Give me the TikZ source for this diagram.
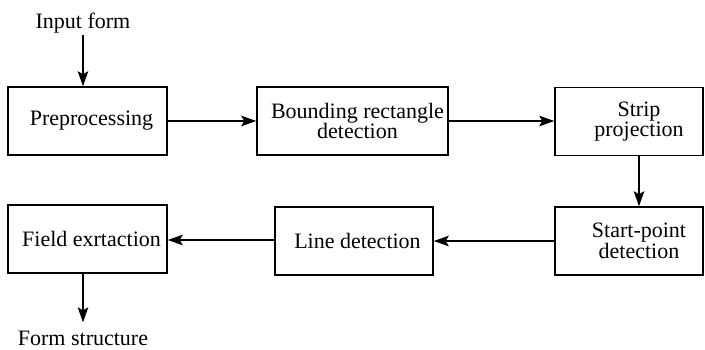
\documentclass[tikz,border=0pt]{standalone}
\usepackage{fontspec}
\setmainfont{Liberation Serif}
\usetikzlibrary{arrows.meta}
\begin{document}
\begin{tikzpicture}[x=1pt,y=-1pt,
  every node/.style={font=\fontsize{22}{20.5}\selectfont},
  stage/.style={draw, line width=1.5pt, minimum height=68pt, align=center, inner sep=0pt},
  io/.style={inner sep=2pt},
  flow/.style={line width=1.6pt, -{Stealth[length=15pt,width=10.5pt,inset=3pt]}}]
\useasboundingbox (0,0) rectangle (705,349);

% processing stages
\node[stage, minimum width=159pt] (pre)   at (87.5,121) {\hspace*{8pt}Preprocessing};
\node[stage, minimum width=191pt] (bound) at (352.5,121) {\hspace*{10pt}Bounding rectangle\\\hspace*{10pt}detection};
\node[stage, minimum width=148pt] (strip) at (629,121.5) {\hspace*{20pt}Strip\\\hspace*{20pt}projection};
\node[stage, minimum width=148pt] (start) at (629,241) {\hspace*{20pt}Start-point\\\hspace*{20pt}detection};
\node[stage, minimum width=158pt] (line)  at (354,241) {\hspace*{7pt}Line detection};
\node[stage, minimum width=159pt] (field) at (87.5,239) {\hspace*{8pt}Field exrtaction};

% input and output
\node[io, anchor=base] (in)  at (83,28) {Input form};
\node[io, anchor=base] (out) at (83,345) {Form structure};

% connectors
\draw[flow] (in.south) -- (in.south |- pre.north);
\draw[flow] (pre.east) -- (pre.east -| bound.west);
\draw[flow] (bound.east) -- (bound.east -| strip.west);
\draw[flow] ([xshift=10pt]strip.south) -- ([xshift=10pt]start.north);
\draw[flow] (start.west) -- (start.west -| line.east);
\draw[flow] ([yshift=1pt]line.west) -- ([yshift=1pt]line.west -| field.east);
\draw[flow, shorten >=6pt] (out.north |- field.south) -- (out.north);
\end{tikzpicture}
\end{document}
